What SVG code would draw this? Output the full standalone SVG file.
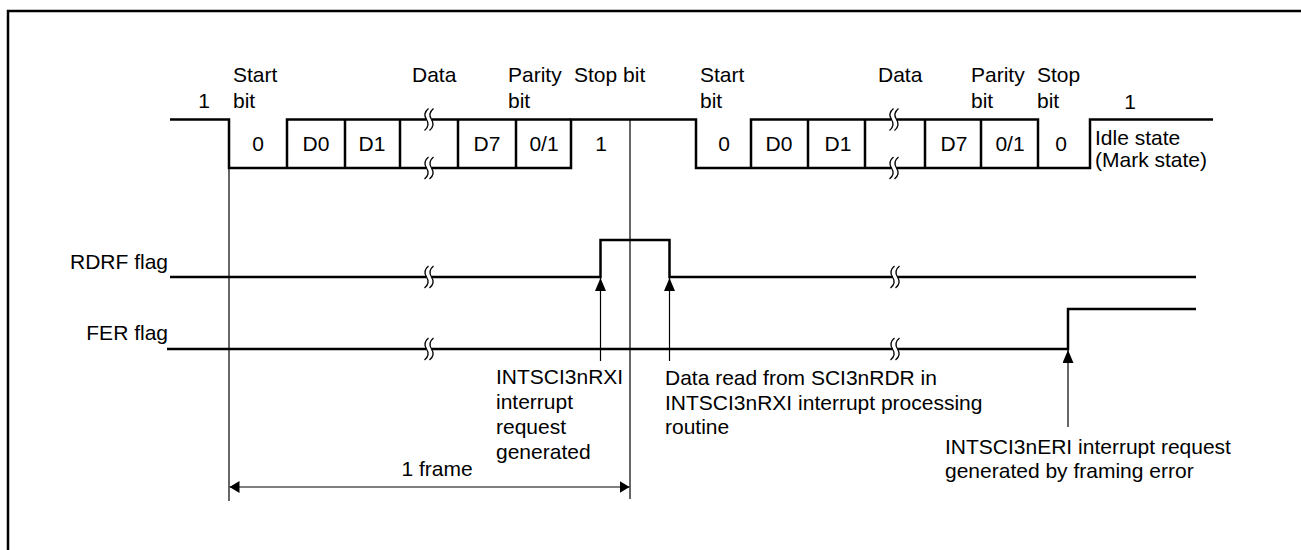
<svg xmlns="http://www.w3.org/2000/svg" width="1301" height="550" viewBox="0 0 1301 550">
<style>
  text { font-family: "Liberation Sans", Arial, sans-serif; font-size: 21px; fill: #000; }
  .c { text-anchor: middle; }
  .e { text-anchor: end; }
  .wave { fill: none; stroke: #000; stroke-width: 2.5; stroke-linejoin: miter; stroke-linecap: butt; }
  .thin { fill: none; stroke: #000; stroke-width: 1.2; }
  .sq { fill: none; stroke: #000; stroke-width: 1.3; }
</style>
<defs>
  <marker id="ah" viewBox="0 0 10 10" refX="10" refY="5" markerWidth="13" markerHeight="11" markerUnits="userSpaceOnUse" orient="auto-start-reverse" preserveAspectRatio="none">
    <path d="M0,0 L10,5 L0,10 z" fill="#000"/>
  </marker>
  <marker id="dh" viewBox="0 0 10 10" refX="10" refY="5" markerWidth="10" markerHeight="12" markerUnits="userSpaceOnUse" orient="auto-start-reverse" preserveAspectRatio="none">
    <path d="M0,0 L10,5 L0,10 z" fill="#000"/>
  </marker>
  <g id="brk">
    <rect x="-2.6" y="-3" width="5.2" height="6" fill="#fff"/>
    <path class="sq" d="M-0.5,-11 Q-6.5,-6 -2.5,0 Q1.5,6 -4.5,11"/>
    <path class="sq" d="M4.5,-11 Q-1.5,-6 2.5,0 Q6.5,6 0.5,11"/>
  </g>
</defs>

<g id="frame">
  <path d="M8,560 V11 H1310" fill="none" stroke="#000" stroke-width="2.5"/>
</g>

<g id="guides">
  <line class="thin" x1="229" y1="168" x2="229" y2="501"/>
  <line class="thin" x1="630" y1="119.5" x2="630" y2="499"/>
</g>

<g id="serial-waveform">
  <path class="wave" d="M170,119.5 H229 V168 H571 V119.5 H696 V168 H1090 V119.5 H1213"/>
  <path class="wave" d="M287,168 V119.5 H571"/>
  <path class="wave" d="M751,168 V119.5 H1038 V168"/>
  <path class="wave" d="M345,119.5 V168 M400,119.5 V168 M458,119.5 V168 M516,119.5 V168"/>
  <path class="wave" d="M808,119.5 V168 M865,119.5 V168 M925,119.5 V168 M981,119.5 V168"/>
</g>

<g id="rdrf-flag">
  <path class="wave" d="M170,277 H600.5 V240 H669.5 V277 H1196"/>
  <text class="e" x="168" y="269">RDRF flag</text>
</g>

<g id="fer-flag">
  <path class="wave" d="M167,349 H1068 V309 H1196"/>
  <text class="e" x="168" y="340">FER flag</text>
</g>

<g id="breaks">
  <use href="#brk" x="429" y="119.5"/>
  <use href="#brk" x="429" y="168"/>
  <use href="#brk" x="894" y="119.5"/>
  <use href="#brk" x="894" y="168"/>
  <use href="#brk" x="429" y="277"/>
  <use href="#brk" x="429" y="349"/>
  <use href="#brk" x="895" y="277"/>
  <use href="#brk" x="895" y="349"/>
</g>

<g id="connectors">
  <line class="thin" x1="600.5" y1="361" x2="600.5" y2="278" marker-end="url(#ah)"/>
  <line class="thin" x1="669.5" y1="361" x2="669.5" y2="278" marker-end="url(#ah)"/>
  <line class="thin" x1="1068" y1="427" x2="1068" y2="350" marker-end="url(#ah)"/>
  <line class="thin" x1="229.5" y1="487" x2="629.5" y2="487" marker-start="url(#dh)" marker-end="url(#dh)"/>
</g>

<g id="labels-top">
  <text x="204" y="108" class="c">1</text>
  <text x="233" y="82">Start</text>
  <text x="233" y="108">bit</text>
  <text x="412" y="82">Data</text>
  <text x="508" y="82">Parity</text>
  <text x="508" y="108">bit</text>
  <text x="574" y="82">Stop bit</text>
  <text x="700" y="82">Start</text>
  <text x="700" y="108">bit</text>
  <text x="878" y="82">Data</text>
  <text x="971" y="82">Parity</text>
  <text x="971" y="108">bit</text>
  <text x="1037" y="82">Stop</text>
  <text x="1037" y="108">bit</text>
  <text x="1130" y="109" class="c">1</text>
  <text x="1095" y="145">Idle state</text>
  <text x="1095" y="167">(Mark state)</text>
</g>

<g id="cell-labels">
  <text x="258" y="151" class="c">0</text>
  <text x="316" y="151" class="c">D0</text>
  <text x="372" y="151" class="c">D1</text>
  <text x="487" y="151" class="c">D7</text>
  <text x="544" y="151" class="c">0/1</text>
  <text x="601" y="151" class="c">1</text>
  <text x="724" y="151" class="c">0</text>
  <text x="779" y="151" class="c">D0</text>
  <text x="838" y="151" class="c">D1</text>
  <text x="954" y="151" class="c">D7</text>
  <text x="1010" y="151" class="c">0/1</text>
  <text x="1061" y="151" class="c">0</text>
</g>

<g id="notes">
  <text x="496" y="384">INTSCI3nRXI</text>
  <text x="496" y="409">interrupt</text>
  <text x="496" y="434">request</text>
  <text x="496" y="459">generated</text>
  <text x="665" y="385">Data read from SCI3nRDR in</text>
  <text x="665" y="410">INTSCI3nRXI interrupt processing</text>
  <text x="665" y="434">routine</text>
  <text x="945" y="454">INTSCI3nERI interrupt request</text>
  <text x="945" y="478">generated by framing error</text>
  <text x="437" y="476" class="c">1 frame</text>
</g>
</svg>
